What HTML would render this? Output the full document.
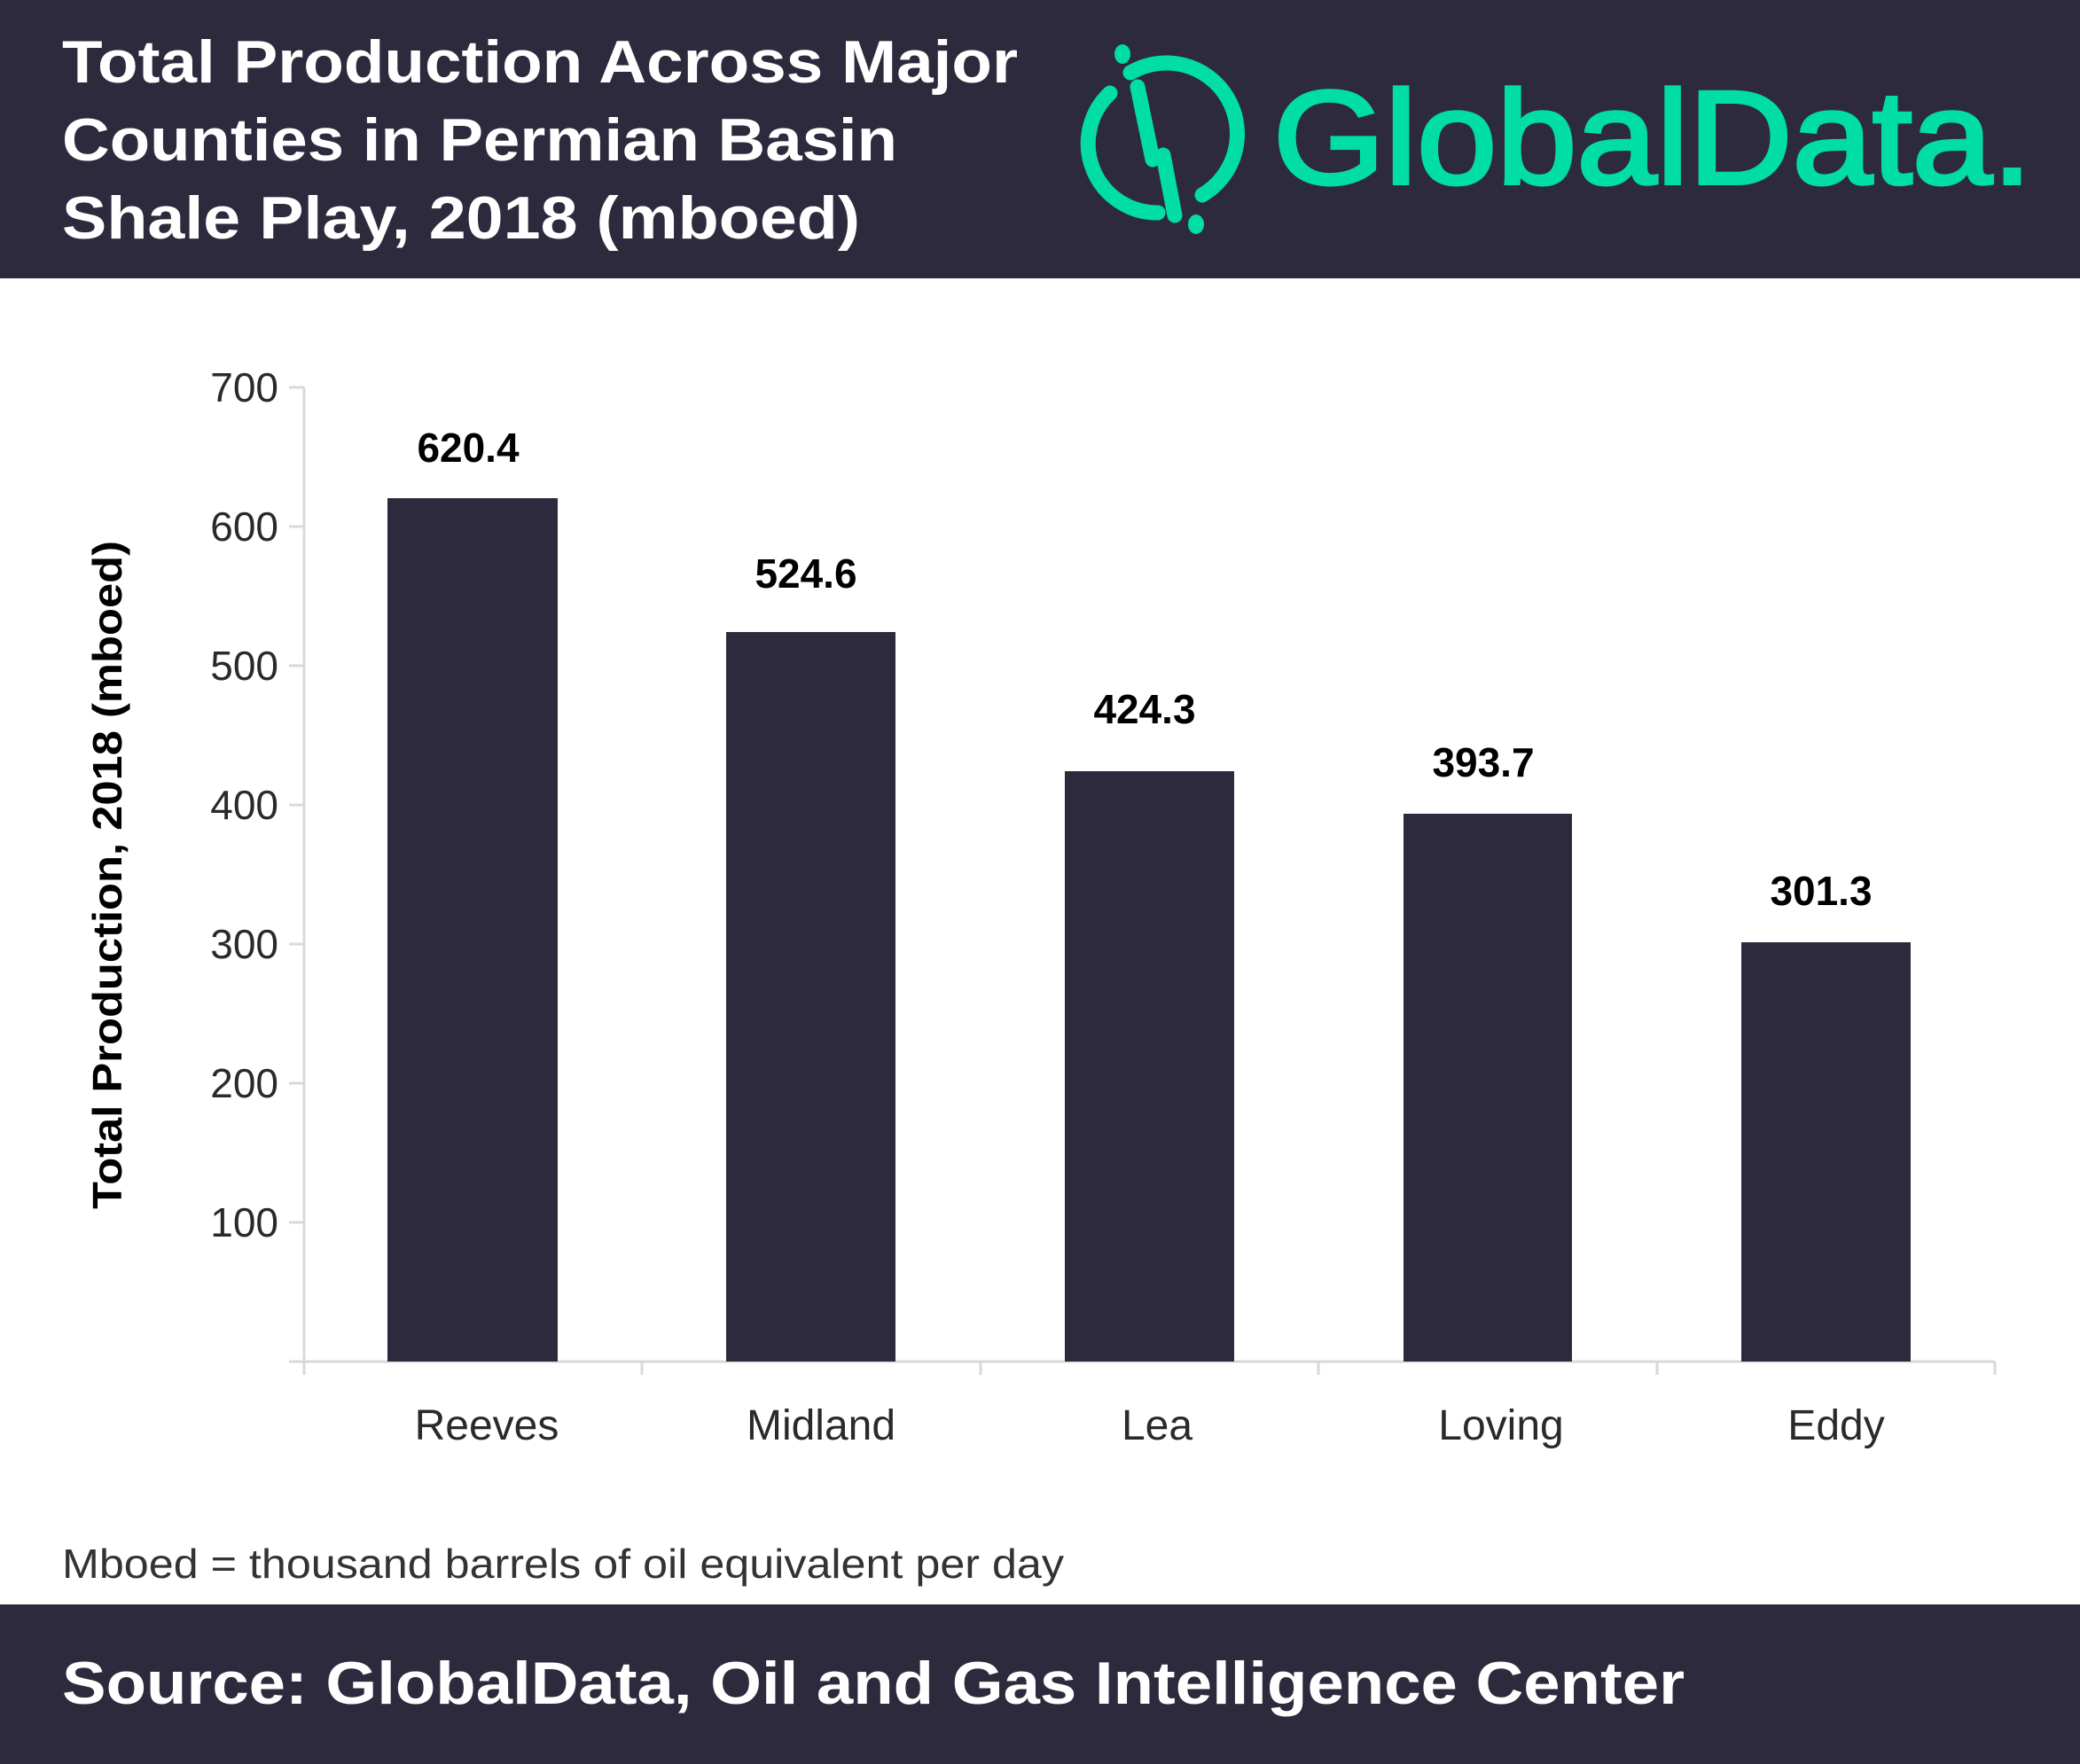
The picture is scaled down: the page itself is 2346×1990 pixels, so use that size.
<!DOCTYPE html>
<html><head><meta charset="utf-8"><style>
html,body{margin:0;padding:0;background:#fff}
svg{display:block}
</style></head><body>
<svg width="2346" height="1990" viewBox="0 0 2346 1990" xmlns="http://www.w3.org/2000/svg" font-family="Liberation Sans, sans-serif">
<rect x="0" y="0" width="2346" height="314" fill="#2e2a3d"/>
<rect x="0" y="1810" width="2346" height="180" fill="#2e2a3d"/>
<g fill="#fff" font-weight="bold" font-size="68">
<text x="70" y="93" textLength="1078" lengthAdjust="spacingAndGlyphs">Total Production Across Major</text>
<text x="70" y="181" textLength="942" lengthAdjust="spacingAndGlyphs">Counties in Permian Basin</text>
<text x="70" y="269" textLength="900" lengthAdjust="spacingAndGlyphs">Shale Play, 2018 (mboed)</text>
</g>
<!-- logo -->
<g fill="none" stroke="#00dda6" stroke-width="17" stroke-linecap="round">
<path d="M1252 105 A78 78 0 0 0 1306 240"/>
<path d="M1275 82 A78 78 0 0 1 1356 220"/>
<line x1="1283" y1="98" x2="1300" y2="180"/>
<line x1="1312" y1="175" x2="1325" y2="243"/>
</g>
<ellipse cx="1266" cy="61" rx="9" ry="11" fill="#00dda6"/>
<ellipse cx="1349" cy="253" rx="9" ry="11" fill="#00dda6"/>
<text x="1436" y="207" font-size="150" fill="#00dda6" stroke="#00dda6" stroke-width="4" textLength="856" lengthAdjust="spacingAndGlyphs">GlobalData.</text>
<!-- axes -->
<g stroke="#d9d9d9" stroke-width="3">
<line x1="343" y1="437" x2="343" y2="1551"/>
<line x1="326" y1="1536" x2="2250" y2="1536"/>
<line x1="326" y1="437" x2="343" y2="437"/>
<line x1="326" y1="594" x2="343" y2="594"/>
<line x1="326" y1="751" x2="343" y2="751"/>
<line x1="326" y1="908" x2="343" y2="908"/>
<line x1="326" y1="1065" x2="343" y2="1065"/>
<line x1="326" y1="1222" x2="343" y2="1222"/>
<line x1="326" y1="1379" x2="343" y2="1379"/>
<line x1="724" y1="1536" x2="724" y2="1551"/>
<line x1="1106" y1="1536" x2="1106" y2="1551"/>
<line x1="1487" y1="1536" x2="1487" y2="1551"/>
<line x1="1869" y1="1536" x2="1869" y2="1551"/>
<line x1="2250" y1="1536" x2="2250" y2="1551"/>
</g>
<g font-size="46" fill="#2a2a2a" text-anchor="end">
<text x="314" y="453">700</text>
<text x="314" y="610">600</text>
<text x="314" y="767">500</text>
<text x="314" y="924">400</text>
<text x="314" y="1081">300</text>
<text x="314" y="1238">200</text>
<text x="314" y="1395">100</text>
</g>
<text transform="translate(137,987) rotate(-90)" text-anchor="middle" font-size="46" font-weight="bold" fill="#000" textLength="754" lengthAdjust="spacingAndGlyphs">Total Production, 2018 (mboed)</text>
<g fill="#2e2a3d">
<rect x="437" y="562" width="192" height="974"/>
<rect x="819" y="713" width="191" height="823"/>
<rect x="1201" y="870" width="191" height="666"/>
<rect x="1583" y="918" width="190" height="618"/>
<rect x="1964" y="1063" width="191" height="473"/>
</g>
<g font-size="46" font-weight="bold" fill="#000" text-anchor="middle">
<text x="528" y="521">620.4</text>
<text x="909" y="663">524.6</text>
<text x="1291" y="816">424.3</text>
<text x="1673" y="876">393.7</text>
<text x="2054" y="1021">301.3</text>
</g>
<g font-size="48" fill="#2a2a2a" text-anchor="middle">
<text x="549" y="1624">Reeves</text>
<text x="926" y="1624">Midland</text>
<text x="1305" y="1624">Lea</text>
<text x="1693" y="1624">Loving</text>
<text x="2071" y="1624">Eddy</text>
</g>
<text x="70" y="1780" font-size="46" fill="#333" textLength="1130" lengthAdjust="spacingAndGlyphs">Mboed = thousand barrels of oil equivalent per day</text>
<text x="70" y="1922" font-size="68" font-weight="bold" fill="#fff" textLength="1830" lengthAdjust="spacingAndGlyphs">Source: GlobalData, Oil and Gas Intelligence Center</text>
</svg>
</body></html>
